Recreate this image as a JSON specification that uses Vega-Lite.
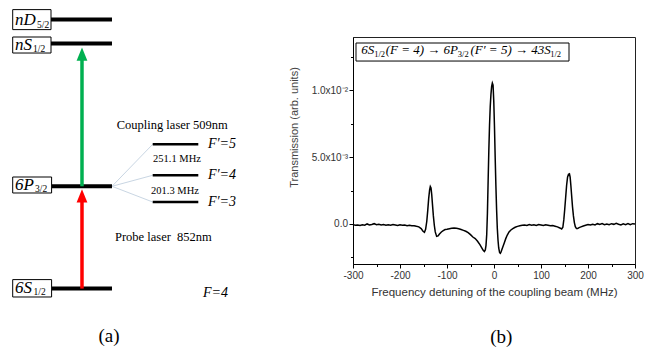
{
  "$schema": "https://vega.github.io/schema/vega-lite/v6.json",
  "padding": {"left": 0, "top": 9, "right": 0, "bottom": 0},
  "autosize": {"type": "pad"},
  "background": "white",
  "bounds": "flush",
  "spacing": 53,
  "config": {"view": {"stroke": null}, "font": "Liberation Sans"},
  "hconcat": [
    {
      "width": 300,
      "height": 227,
      "view": {"stroke": null},
      "encoding": {
        "x": {"field": "x", "type": "quantitative", "scale": {"domain": [0, 100], "nice": false, "zero": false}, "axis": null},
        "y": {"field": "y", "type": "quantitative", "scale": {"domain": [0, 75.67], "nice": false, "zero": false}, "axis": null}
      },
      "layer": [
        {
          "data": {"values": [
            {"x": 37.33, "y": 25.9, "x2": 50.9, "y2": 39.9},
            {"x": 37.33, "y": 25.9, "x2": 50.9, "y2": 29.57},
            {"x": 37.33, "y": 25.9, "x2": 50.9, "y2": 20.67}
          ]},
          "mark": {"type": "rule", "color": "#c9d6e3", "strokeWidth": 1},
          "encoding": {"x2": {"field": "x2"}, "y2": {"field": "y2"}}
        },
        {
          "data": {"values": [
            {"level": "nD5/2", "x": 17, "x2": 37.33, "y": 81.47},
            {"level": "nS1/2", "x": 17, "x2": 37.33, "y": 73.47},
            {"level": "6P3/2", "x": 17.2, "x2": 37.33, "y": 25.9},
            {"level": "6S1/2", "x": 17.2, "x2": 37.33, "y": -8.2}
          ]},
          "mark": {"type": "rule", "color": "black", "strokeWidth": 4},
          "encoding": {"x2": {"field": "x2"}}
        },
        {
          "data": {"values": [
            {"F": 5, "x": 50.9, "x2": 66.1, "y": 39.9},
            {"F": 4, "x": 50.9, "x2": 66.1, "y": 29.57},
            {"F": 3, "x": 50.9, "x2": 66.1, "y": 20.67}
          ]},
          "mark": {"type": "rule", "color": "black", "strokeWidth": 2.5},
          "encoding": {"x2": {"field": "x2"}}
        },
        {
          "data": {"values": [{"laser": "coupling", "x": 27.33, "y": 25.9, "y2": 69.2}]},
          "mark": {"type": "rule", "color": "#00b050", "strokeWidth": 3.5},
          "encoding": {"y2": {"field": "y2"}}
        },
        {
          "data": {"values": [{"laser": "probe", "x": 27.33, "y": -8.2, "y2": 22.2}]},
          "mark": {"type": "rule", "color": "#ff0000", "strokeWidth": 3.5},
          "encoding": {"y2": {"field": "y2"}}
        },
        {
          "data": {"values": [{"laser": "coupling", "x": 27.33, "y": 69.93}]},
          "mark": {"type": "point", "shape": "M0,-1.1L0.9,1.1L-0.9,1.1Z", "filled": true, "size": 144, "color": "#00b050", "opacity": 1}
        },
        {
          "data": {"values": [{"laser": "probe", "x": 27.33, "y": 22.7}]},
          "mark": {"type": "point", "shape": "M0,-1.1L0.9,1.1L-0.9,1.1Z", "filled": true, "size": 144, "color": "#ff0000", "opacity": 1}
        },
        {
          "data": {"values": [
            {"x": 4.23, "x2": 17.0, "y": 84.8, "y2": 78.13},
            {"x": 4.23, "x2": 17.0, "y": 75.67, "y2": 70.33},
            {"x": 4.23, "x2": 17.2, "y": 29.0, "y2": 23.67},
            {"x": 4.23, "x2": 17.2, "y": -5.2, "y2": -11.0}
          ]},
          "mark": {"type": "rect", "fill": "white", "stroke": "black", "strokeWidth": 1},
          "encoding": {"x2": {"field": "x2"}, "y2": {"field": "y2"}}
        },
        {
          "data": {"values": [
            {"x": 5.0, "y": 79.57, "label": "nD"},
            {"x": 5.0, "y": 71.4, "label": "nS"},
            {"x": 5.0, "y": 24.73, "label": "6P"},
            {"x": 5.0, "y": -9.6, "label": "6S"}
          ]},
          "mark": {"type": "text", "font": "Liberation Serif", "fontStyle": "italic", "fontSize": 17, "align": "left", "baseline": "alphabetic", "color": "black"},
          "encoding": {"text": {"field": "label"}}
        },
        {
          "data": {"values": [
            {"x": 12.33, "y": 78.57, "label": "5/2"},
            {"x": 11.0, "y": 70.57, "label": "1/2"},
            {"x": 11.67, "y": 23.9, "label": "3/2"},
            {"x": 11.17, "y": -10.43, "label": "1/2"}
          ]},
          "mark": {"type": "text", "font": "Liberation Serif", "fontSize": 9.5, "align": "left", "baseline": "alphabetic", "color": "black"},
          "encoding": {"text": {"field": "label"}}
        },
        {
          "data": {"values": [
            {"x": 69.33, "y": 39.9, "label": "F′=5"},
            {"x": 69.33, "y": 29.57, "label": "F′=4"},
            {"x": 69.33, "y": 20.67, "label": "F′=3"},
            {"x": 67.67, "y": -9.53, "label": "F=4"}
          ]},
          "mark": {"type": "text", "font": "Liberation Serif", "fontStyle": "italic", "fontSize": 14, "align": "left", "baseline": "middle", "color": "black"},
          "encoding": {"text": {"field": "label"}}
        },
        {
          "data": {"values": [
            {"x": 59.0, "y": 35.13, "label": "251.1 MHz"},
            {"x": 58.33, "y": 24.23, "label": "201.3 MHz"}
          ]},
          "mark": {"type": "text", "font": "Liberation Serif", "fontSize": 10.5, "align": "center", "baseline": "middle", "color": "black"},
          "encoding": {"text": {"field": "label"}}
        },
        {
          "data": {"values": [
            {"x": 38.9, "y": 46.23, "label": "Coupling laser 509nm"},
            {"x": 38.33, "y": 9.0, "label": "Probe laser\u00a0 852nm"}
          ]},
          "mark": {"type": "text", "font": "Liberation Serif", "fontSize": 12.5, "align": "left", "baseline": "middle", "color": "black"},
          "encoding": {"text": {"field": "label"}}
        },
        {
          "data": {"values": [{"x": 36.33, "y": -24.1, "label": "(a)"}]},
          "mark": {"type": "text", "font": "Liberation Serif", "fontSize": 19, "align": "center", "baseline": "middle", "color": "black"},
          "encoding": {"text": {"field": "label"}}
        }
      ]
    },
    {
      "width": 282,
      "height": 227,
      "view": {"stroke": "#222", "strokeWidth": 1},
      "encoding": {
        "x": {
          "field": "f", "type": "quantitative",
          "scale": {"domain": [-300, 300], "nice": false, "zero": false},
          "axis": {
            "title": "Frequency detuning of the coupling beam (MHz)",
            "values": [-300, -250, -200, -150, -100, -50, 0, 50, 100, 150, 200, 250, 300],
            "labelExpr": "datum.value % 100 === 0 ? '' + datum.value : ''",
            "grid": false,
            "domainColor": "black",
            "tickColor": "black",
            "tickSize": {"condition": {"test": "datum.value % 100 === 0", "value": 4}, "value": 2.5},
            "labelPadding": 2,
            "labelFont": "Liberation Sans",
            "labelFontSize": 10,
            "labelColor": "#333",
            "labelFlush": false,
            "titleFont": "Liberation Sans",
            "titleFontSize": 11.5,
            "titleFontWeight": "normal",
            "titleColor": "#333",
            "titleBaseline": "middle",
            "titleY": 28
          }
        },
        "y": {
          "field": "t", "type": "quantitative",
          "scale": {"domain": [-3, 14], "nice": false, "zero": false},
          "axis": {
            "title": "Transmission (arb. units)",
            "values": [-2.5, 0, 2.5, 5, 7.5, 10, 12.5],
            "labelExpr": "datum.value === 0 ? '0.0' : datum.value === 5 ? '5.0x10⁻³' : datum.value === 10 ? '1.0x10⁻²' : ''",
            "grid": false,
            "domainColor": "black",
            "tickColor": "black",
            "tickSize": {"condition": {"test": "datum.value % 5 === 0", "value": 4}, "value": 2.5},
            "labelPadding": 1.5,
            "labelFont": "Liberation Sans",
            "labelFontSize": 10,
            "labelColor": "#333",
            "labelFlush": false,
            "titleFont": "Liberation Sans",
            "titleFontSize": 11,
            "titleFontWeight": "normal",
            "titleColor": "#444",
            "titleAngle": -90,
            "titleAlign": "center",
            "titleBaseline": "middle",
            "titleX": -59,
            "titleY": 90
          }
        }
      },
      "layer": [
        {
          "data": {"values": [
            {"f": -300, "t": -0.05}, {"f": -295, "t": -0.10}, {"f": -290, "t": -0.08}, {"f": -285, "t": -0.12},
            {"f": -280, "t": -0.06}, {"f": -275, "t": -0.09}, {"f": -270, "t": 0.0}, {"f": -265, "t": -0.07},
            {"f": -260, "t": -0.04}, {"f": -255, "t": 0.02}, {"f": -250, "t": -0.06}, {"f": -245, "t": -0.03},
            {"f": -240, "t": -0.08}, {"f": -235, "t": -0.05}, {"f": -230, "t": -0.10}, {"f": -225, "t": -0.06},
            {"f": -220, "t": -0.09}, {"f": -215, "t": -0.04}, {"f": -210, "t": -0.08}, {"f": -205, "t": -0.12},
            {"f": -200, "t": -0.07}, {"f": -195, "t": -0.10}, {"f": -190, "t": -0.08}, {"f": -185, "t": -0.13},
            {"f": -180, "t": -0.10}, {"f": -175, "t": -0.14}, {"f": -170, "t": -0.13}, {"f": -165, "t": -0.18},
            {"f": -160, "t": -0.22}, {"f": -155, "t": -0.35}, {"f": -151, "t": -0.55}, {"f": -148, "t": -0.63},
            {"f": -145.5, "t": -0.4}, {"f": -143, "t": 0.2}, {"f": -141, "t": 1.0}, {"f": -139, "t": 1.9},
            {"f": -137, "t": 2.55}, {"f": -135.5, "t": 2.8}, {"f": -134, "t": 2.7}, {"f": -132.5, "t": 2.2},
            {"f": -131, "t": 1.5}, {"f": -129, "t": 0.6}, {"f": -127, "t": -0.1}, {"f": -125, "t": -0.6},
            {"f": -122, "t": -0.93}, {"f": -119, "t": -0.9}, {"f": -116, "t": -0.75}, {"f": -112, "t": -0.6},
            {"f": -108, "t": -0.5}, {"f": -104, "t": -0.42}, {"f": -100, "t": -0.4}, {"f": -95, "t": -0.36},
            {"f": -90, "t": -0.32}, {"f": -85, "t": -0.3}, {"f": -80, "t": -0.33}, {"f": -75, "t": -0.36},
            {"f": -70, "t": -0.42}, {"f": -65, "t": -0.48}, {"f": -60, "t": -0.55}, {"f": -55, "t": -0.65},
            {"f": -50, "t": -0.8}, {"f": -45, "t": -0.98}, {"f": -40, "t": -1.1}, {"f": -35, "t": -1.3},
            {"f": -30, "t": -1.55}, {"f": -26, "t": -1.8}, {"f": -23, "t": -1.98}, {"f": -20.5, "t": -2.07},
            {"f": -18.5, "t": -1.95}, {"f": -17, "t": -1.6}, {"f": -15.5, "t": -0.8}, {"f": -14, "t": 0.8},
            {"f": -12.5, "t": 3.2}, {"f": -11, "t": 5.5}, {"f": -9.5, "t": 7.4}, {"f": -8, "t": 8.8},
            {"f": -6.5, "t": 9.7}, {"f": -5, "t": 10.3}, {"f": -3.5, "t": 10.55}, {"f": -2, "t": 10.4},
            {"f": -0.5, "t": 9.2}, {"f": 1, "t": 7.3}, {"f": 2.5, "t": 5.0}, {"f": 4, "t": 2.9},
            {"f": 5.5, "t": 1.1}, {"f": 7, "t": -0.3}, {"f": 8.5, "t": -1.2}, {"f": 10, "t": -1.8},
            {"f": 12, "t": -2.15}, {"f": 13.5, "t": -2.2}, {"f": 15, "t": -2.1}, {"f": 17, "t": -1.9},
            {"f": 19.5, "t": -1.65}, {"f": 22, "t": -1.4}, {"f": 25, "t": -1.1}, {"f": 28, "t": -0.85},
            {"f": 32, "t": -0.6}, {"f": 36, "t": -0.45}, {"f": 40, "t": -0.35}, {"f": 45, "t": -0.25},
            {"f": 50, "t": -0.18}, {"f": 55, "t": -0.13}, {"f": 60, "t": -0.1}, {"f": 65, "t": -0.08},
            {"f": 70, "t": -0.12}, {"f": 75, "t": -0.05}, {"f": 80, "t": -0.1}, {"f": 85, "t": -0.06},
            {"f": 90, "t": -0.11}, {"f": 95, "t": -0.04}, {"f": 100, "t": -0.08}, {"f": 105, "t": -0.12},
            {"f": 110, "t": -0.07}, {"f": 115, "t": -0.10}, {"f": 120, "t": -0.14}, {"f": 125, "t": -0.12},
            {"f": 130, "t": -0.17}, {"f": 135, "t": -0.22}, {"f": 140, "t": -0.3}, {"f": 144, "t": -0.38},
            {"f": 146.5, "t": -0.25}, {"f": 148.5, "t": 0.3}, {"f": 150.5, "t": 1.1}, {"f": 152.5, "t": 2.0},
            {"f": 154.5, "t": 2.9}, {"f": 156.5, "t": 3.5}, {"f": 158.5, "t": 3.72}, {"f": 160.5, "t": 3.75},
            {"f": 162, "t": 3.5}, {"f": 163.5, "t": 2.9}, {"f": 165, "t": 2.2}, {"f": 167, "t": 1.3},
            {"f": 169, "t": 0.6}, {"f": 171, "t": 0.1}, {"f": 173, "t": -0.2}, {"f": 175.5, "t": -0.35},
            {"f": 178, "t": -0.35}, {"f": 181, "t": -0.28}, {"f": 185, "t": -0.22}, {"f": 190, "t": -0.15},
            {"f": 195, "t": -0.1}, {"f": 200, "t": -0.05}, {"f": 205, "t": -0.08}, {"f": 210, "t": -0.02},
            {"f": 215, "t": -0.07}, {"f": 220, "t": 0.02}, {"f": 225, "t": -0.04}, {"f": 230, "t": 0.03},
            {"f": 235, "t": -0.05}, {"f": 240, "t": 0.0}, {"f": 245, "t": -0.06}, {"f": 250, "t": 0.02},
            {"f": 255, "t": -0.03}, {"f": 260, "t": 0.05}, {"f": 265, "t": -0.02}, {"f": 270, "t": -0.07},
            {"f": 275, "t": 0.01}, {"f": 280, "t": -0.05}, {"f": 285, "t": 0.03}, {"f": 290, "t": -0.06},
            {"f": 295, "t": 0.02}, {"f": 300, "t": 0.0}
          ]},
          "mark": {"type": "line", "color": "black", "strokeWidth": 1.5}
        },
        {
          "data": {"values": [{"f": -293.6, "f2": 159.6, "t": 13.55, "t2": 12.2}]},
          "mark": {"type": "rect", "fill": "white", "stroke": "black", "strokeWidth": 1},
          "encoding": {"x2": {"field": "f2"}, "y2": {"field": "t2"}}
        },
        {
          "data": {"values": [
            {"f": -282.6, "t": 12.74, "s": "6S"},
            {"f": -230.5, "t": 12.74, "s": "(F = 4) → 6P"},
            {"f": -50.0, "t": 12.74, "s": "(F′ = 5) → 43S"}
          ]},
          "mark": {"type": "text", "font": "Liberation Serif", "fontStyle": "italic", "fontSize": 13, "align": "left", "baseline": "alphabetic", "color": "black"},
          "encoding": {"text": {"field": "s"}}
        },
        {
          "data": {"values": [
            {"f": -255.0, "t": 12.51, "s": "1/2"},
            {"f": -77.0, "t": 12.51, "s": "3/2"},
            {"f": 119.5, "t": 12.51, "s": "1/2"}
          ]},
          "mark": {"type": "text", "font": "Liberation Serif", "fontSize": 8.5, "align": "left", "baseline": "alphabetic", "color": "black"},
          "encoding": {"text": {"field": "s"}}
        },
        {
          "data": {"values": [{"f": 15.5, "t": -8.45, "s": "(b)"}]},
          "mark": {"type": "text", "font": "Liberation Serif", "fontSize": 19, "align": "center", "baseline": "middle", "color": "black"},
          "encoding": {"text": {"field": "s"}}
        }
      ]
    }
  ]
}
